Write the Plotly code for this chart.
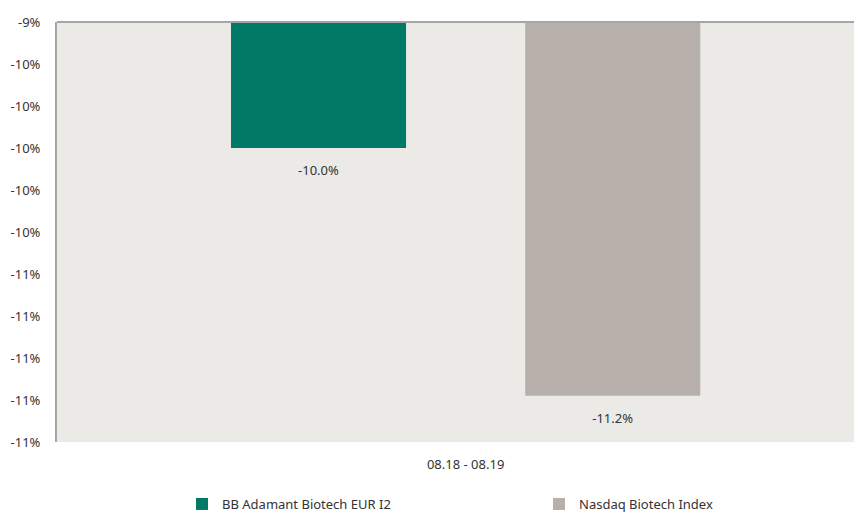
import plotly.graph_objects as go

categories = ["08.18 - 08.19"]
series_names = ["BB Adamant Biotech EUR I2", "Nasdaq Biotech Index"]
fund_values = [-10.0]
index_values = [-11.18]
tick_values = [-9.4, -9.6, -9.8, -10.0, -10.2, -10.4, -10.6, -10.8, -11.0, -11.2, -11.4]
tick_labels = ["-9%", "-10%", "-10%", "-10%", "-10%", "-10%", "-11%", "-11%", "-11%", "-11%", "-11%"]

colors = ["#007a66", "#b7afa9"]
font_family = "Noto Sans, Open Sans, sans-serif"

fig = go.Figure()
for name, vals, col in zip(series_names, [fund_values, index_values], colors):
    fig.add_trace(go.Bar(
        x=categories, y=vals, name=name, marker=dict(color=col, line=dict(width=0)),
        texttemplate="<span style='font-size:7px'>&nbsp;</span><br>%{y:.1f}%",
        textposition="outside",
        textfont=dict(size=13, color="#333333", family=font_family),
        cliponaxis=False,
    ))

fig.update_layout(
    width=854, height=505,
    margin=dict(l=49, r=0, t=14, b=71),
    paper_bgcolor="white",
    plot_bgcolor="#ebeae6",
    barmode="group",
    bargap=0.28,
    bargroupgap=0.405,
    font=dict(family=font_family, size=13, color="#333333"),
    showlegend=True,
    legend=dict(
        orientation="h", xref="container", yref="container",
        x=174 / 854, xanchor="left", y=0.0475, yanchor="top",
        entrywidth=312, entrywidthmode="pixels",
        font=dict(size=13, color="#333333", family=font_family),
        itemwidth=30, tracegroupgap=0,
    ),
    xaxis=dict(
        type="category", range=[-0.5, 0.485], showgrid=False, zeroline=False,
        showline=False, ticks="outside", ticklen=10, tickcolor="rgba(0,0,0,0)",
        tickfont=dict(size=13),
    ),
    yaxis=dict(
        range=[-11.4, -9.4], tickvals=tick_values, ticktext=tick_labels,
        showgrid=False, zeroline=False, showline=True, linecolor="#a6a6a6", linewidth=2,
        ticks="outside", ticklen=12, tickcolor="rgba(0,0,0,0)",
        tickfont=dict(size=13),
    ),
    shapes=[dict(type="line", xref="paper", yref="paper", x0=0, x1=1, y0=1, y1=1,
                 line=dict(color="#a6a6a6", width=2))],
)

fig.write_html("out.html")
